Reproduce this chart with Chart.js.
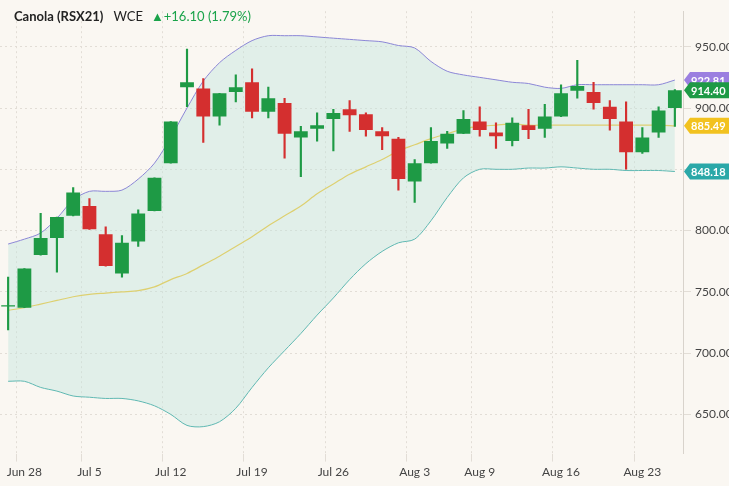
<!DOCTYPE html>
<html>
<head>
<meta charset="utf-8">
<script src="https://cdn.jsdelivr.net/npm/chart.js@4"></script>
<style>
  body { margin: 0; background: #faf7f2; font-family: Lato, sans-serif; }
  #wrap { position: relative; width: 729px; height: 486px; }
  #title { position: absolute; left: 14px; top: 8px; font-size: 13px; color: #222; z-index: 2; }
  #title b { margin-right: 10px; }
  #title .chg { color: #1aa34a; margin-left: 8px; }
</style>
</head>
<body>
<div id="wrap">
  <div id="title"><b>Canola (RSX21)</b>WCE<span class="chg">▲+16.10 (1.79%)</span></div>
  <canvas id="chart" width="729" height="486"></canvas>
</div>
<script>
// Dates (trading days)
const dates = ['Jun 25','Jun 28','Jun 29','Jun 30','Jul 2','Jul 5','Jul 6','Jul 7','Jul 8','Jul 9',
  'Jul 12','Jul 13','Jul 14','Jul 15','Jul 16','Jul 19','Jul 20','Jul 21','Jul 22','Jul 23',
  'Jul 26','Jul 27','Jul 28','Jul 29','Jul 30','Aug 3','Aug 4','Aug 5','Aug 6',
  'Aug 9','Aug 10','Aug 11','Aug 12','Aug 13','Aug 16','Aug 17','Aug 18','Aug 19','Aug 20',
  'Aug 23','Aug 24','Aug 25'];
const shownLabels = ['Jun 28','Jul 5','Jul 12','Jul 19','Jul 26','Aug 3','Aug 9','Aug 16','Aug 23'];

// OHLC
const open  = [738,737,780,794,812,820,797,765,791,816,855,917,916,893,913,921,897,904,876,883,891,899,895,881,875,840,855,871,879,889,880,873,886,883,893,914,913,901,889,864,880,900];
const close = [739,769,794,811,831,801,771,790,814,843,889,921,893,912,917,897,908,879,881,886,896,894,882,877,842,855,873,879,891,882,877,888,882,893,912,918,904,891,864,876,898,914.4];
const high  = [762,769,814,811,835,826,803,796,817,843,889,948,924,912,927,932,917,908,885,896,899,906,896,884,876,858,884,881,898,901,888,892,899,903,919,939,921,906,905,884,901,915];
const low   = [719,737,780,766,812,801,771,762,787,816,855,901,872,886,905,892,892,859,844,873,865,881,877,866,833,823,855,867,879,877,867,869,875,876,893,908,899,882,850,863,876,885];

// Bollinger bands
const upper  = [789,793,798,810,825,832,832,833,842,855,876,900,922,937,947,955,959,959,959,958,957,956,955,954,951,949,938,930,927,925,923,921,920,917,916,919,919,919,919,919,919,922.81];
const middle = [735,737,740,743,746,748,749,750,751,754,760,765,772,779,787,795,804,812,820,830,838,846,852,858,865,870,875,879,883,885,886,887,886,886,886,886,886,886,886,886,886,885.49];
const lower  = [677,677,672,669,665,664,663,663,661,657,650,641,640,644,655,672,688,702,716,731,745,760,773,783,790,793,808,827,843,850,850,850,851,851,852,851,850,850,849,849,849,848.18];

const yTicks = [650,700,750,800,850,900,950];

const green = '#1e9a45', red = '#d42f2f';
const candleColors = open.map((o, i) => close[i] >= o ? green : red);

// price tags on the right axis
const tags = [
  { value: upper[upper.length - 1], color: '#9b7fe0' },
  { value: close[close.length - 1], color: '#1e9a45' },
  { value: middle[middle.length - 1], color: '#f2c21f' },
  { value: lower[lower.length - 1], color: '#2aa8a8' },
];
const tagPlugin = {
  id: 'tags',
  afterDraw(chart) {
    const { ctx, scales: { y }, chartArea } = chart;
    ctx.save();
    ctx.font = 'bold 11px Lato';
    tags.forEach(t => {
      const py = y.getPixelForValue(t.value);
      const x0 = chartArea.right + 1, w = 45, h = 16;
      ctx.fillStyle = t.color;
      ctx.beginPath();
      ctx.moveTo(x0, py);
      ctx.lineTo(x0 + 6, py - h / 2);
      ctx.lineTo(x0 + w, py - h / 2);
      ctx.lineTo(x0 + w, py + h / 2);
      ctx.lineTo(x0 + 6, py + h / 2);
      ctx.closePath();
      ctx.fill();
      ctx.fillStyle = '#fff';
      ctx.textAlign = 'left';
      ctx.textBaseline = 'middle';
      ctx.fillText(t.value.toFixed(2), x0 + 7, py + 1);
    });
    ctx.restore();
  }
};

const ctx = document.getElementById('chart').getContext('2d');
new Chart(ctx, {
  data: {
    labels: dates,
    datasets: [
      {
        type: 'bar', label: 'Wick',
        data: low.map((l, i) => [l, high[i]]),
        backgroundColor: candleColors, barThickness: 1.5, grouped: false, order: 2,
      },
      {
        type: 'bar', label: 'Body',
        data: open.map((o, i) => [o, close[i]]),
        backgroundColor: candleColors, barPercentage: 0.85, categoryPercentage: 1, grouped: false, order: 1,
      },
      {
        type: 'line', label: 'Upper', data: upper,
        borderColor: '#8b86d6', borderWidth: 1, pointRadius: 0, tension: 0.3,
        fill: '+2', backgroundColor: 'rgba(196,228,222,0.45)', order: 5,
      },
      {
        type: 'line', label: 'Middle', data: middle,
        borderColor: '#ddd070', borderWidth: 1.2, pointRadius: 0, tension: 0.3, fill: false, order: 4,
      },
      {
        type: 'line', label: 'Lower', data: lower,
        borderColor: '#5fb8b2', borderWidth: 1, pointRadius: 0, tension: 0.3, fill: false, order: 3,
      },
    ],
  },
  options: {
    responsive: false,
    animation: false,
    layout: { padding: { top: 0, right: 0, left: 0, bottom: 4 } },
    plugins: { legend: { display: false }, tooltip: { enabled: false } },
    scales: {
      x: {
        offset: true,
        grid: {
          color: c => shownLabels.includes(dates[c.index]) ? '#e2ddd6' : 'transparent',
        },
        border: { display: false, dash: [2, 3] },
        ticks: {
          autoSkip: false, maxRotation: 0, color: '#444', font: { family: 'Lato', size: 12 },
          callback: (v, i) => shownLabels.includes(dates[i]) ? dates[i] : '',
        },
      },
      y: {
        position: 'right',
        min: 618, max: 979,
        afterBuildTicks: s => { s.ticks = yTicks.map(v => ({ value: v })); },
        afterFit: s => { s.width = 46; },
        grid: { color: '#e2ddd6' },
        border: { color: '#d8d3cc', dash: [2, 3] },
        ticks: { color: '#444', font: { family: 'Lato', size: 12 }, padding: 4, callback: v => v.toFixed(2) },
      },
    },
  },
  plugins: [tagPlugin],
});
</script>
</body>
</html>
